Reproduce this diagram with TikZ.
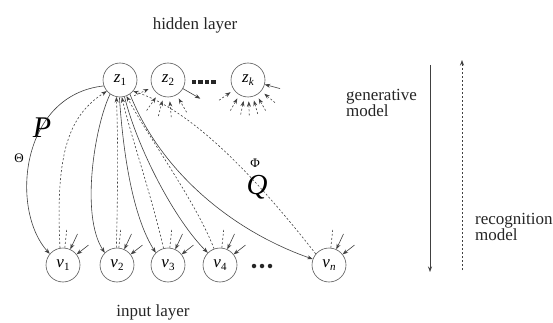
\documentclass[tikz,border=0pt]{standalone}
\usepackage{fontspec}
\setmainfont{Liberation Serif}
\usetikzlibrary{arrows.meta,calc}
\newcommand\unitlab[2]{\textit{#1}\raisebox{-0.45ex}{\fontsize{11}{11}\selectfont #2}}
\begin{document}
\begin{tikzpicture}[x=1pt,y=-1pt,
  unit/.style={circle,draw=black!65,line width=0.6pt,minimum size=34pt,inner sep=0pt,font=\fontsize{17}{17}\selectfont},
  gen/.style={draw=black!75,line width=0.6pt,-{Stealth[length=5.5pt,width=4pt]}},
  rec/.style={gen,dash pattern=on 2pt off 2pt},
  stub/.style={draw=black!75,line width=0.6pt},
  lbl/.style={font=\fontsize{17}{14.5}\selectfont,inner sep=0pt,text=black!85},
  ddot/.style={rectangle,fill=black!85,inner sep=0pt,minimum size=4.5pt}]
\useasboundingbox (0,0) rectangle (553,323);
\fill[white] (0,0) rectangle (553,323);
% hidden units
\node[unit] (z1) at (120,80) {\raisebox{-1.0ex}{\unitlab{z}{1}}};
\node[unit] (z2) at (168,80) {\raisebox{-1.0ex}{\unitlab{z}{2}}};
\node[unit] (zk) at (248,80) {\raisebox{-1.0ex}{\unitlab{z}{\textit{k}}}};
\node[ddot] (zd1) at (194,82) {};
\node[ddot] (zd2) at (200.5,82) {};
\node[ddot] (zd3) at (207,82) {};
\node[ddot] (zd4) at (213.5,82) {};
% input units
\node[unit] (v1) at (63,265) {\unitlab{v}{1}};
\node[unit] (v2) at (117,265) {\unitlab{v}{2}};
\node[unit] (v3) at (168,265) {\unitlab{v}{3}};
\node[unit] (v4) at (220,265) {\unitlab{v}{4}};
\node[unit] (vn) at (329,265) {\unitlab{v}{\textit{n}}};
\node[ddot,circle] (vd1) at (254,266) {};
\node[ddot,circle] (vd2) at (262,266) {};
\node[ddot,circle] (vd3) at (270,266) {};
% layer labels
\node[lbl] (hl) at (195,25) {hidden layer};
\node[lbl] (il) at (153,312) {input layer};
\node[lbl,align=left,anchor=north west] (gm) at (346,89) {generative\\model};
\node[lbl,align=left,anchor=north west] (rm) at (475,213) {recognition\\model};
\node[font=\fontsize{30}{30}\selectfont\itshape,inner sep=0pt] (P) at (42,128) {P};
\node[font=\fontsize{29}{29}\selectfont\itshape,inner sep=0pt] (Q) at (257,187) {Q};
\node[font=\fontsize{13}{13}\selectfont,inner sep=0pt] (th) at (19,158) {Θ};
\node[font=\fontsize{13}{13}\selectfont,inner sep=0pt] (ph) at (255,163) {Φ};
% direction arrows
\coordinate (ga) at (430,65);
\coordinate (gb) at (430,272);
\coordinate (ra) at (462,270);
\coordinate (rb) at (462,60);
\draw[gen] (ga) -- (gb);
\draw[rec] (ra) -- (rb);
% generative connections z1 -> v
\draw[gen] (z1.200) .. controls (20,95) and (10,210) .. (v1.140);
\draw[gen] (z1.235) .. controls (95,125) and (80,215) .. (v2.135);
\draw[gen] (z1.268) .. controls (124,165) and (135,220) .. (v3.135);
\draw[gen] (z1.285) .. controls (138,150) and (175,220) .. (v4.135);
\draw[gen] (z1.305) .. controls (160,170) and (230,230) .. (vn.160);
% recognition connections v -> z1
\draw[rec] (v1.100) .. controls (55,150) and (70,115) .. (z1.220);
\draw[rec] (v2.92) .. controls (118,180) and (118,140) .. (z1.258);
\draw[rec] (v3.105) .. controls (150,190) and (132,140) .. (z1.276);
\draw[rec] (v4.110) .. controls (195,200) and (150,140) .. (z1.292);
\draw[rec] (vn.140) .. controls (250,170) and (190,110) .. (z1.320);
% stubs at input units
\foreach \u in {v1,v2,v3,v4,vn}{
  \draw[gen] ($(\u.65)!-17pt!(\u)$) -- (\u.65);
  \draw[gen] ($(\u.38)!-15pt!(\u)$) -- (\u.38);
  \draw[stub,dash pattern=on 2pt off 2pt] (\u.84) -- ($(\u.84)!-20pt!(\u)$);
}
% stubs at hidden units
\foreach \a in {205,235,255,275,300}{
  \draw[rec] ($(z2.\a)!-20pt!(z2)$) -- ($(z2.\a)!-4pt!(z2)$);
}
\draw[gen] (z2.330) -- ($(z2.330)!-20pt!(z2)$);
\foreach \a in {215,240,258,272,286,300,320}{
  \draw[rec] ($(zk.\a)!-18pt!(zk)$) -- ($(zk.\a)!-4pt!(zk)$);
}
\draw[gen] ($(zk.345)!-16pt!(zk)$) -- (zk.345);
\end{tikzpicture}
\end{document}
